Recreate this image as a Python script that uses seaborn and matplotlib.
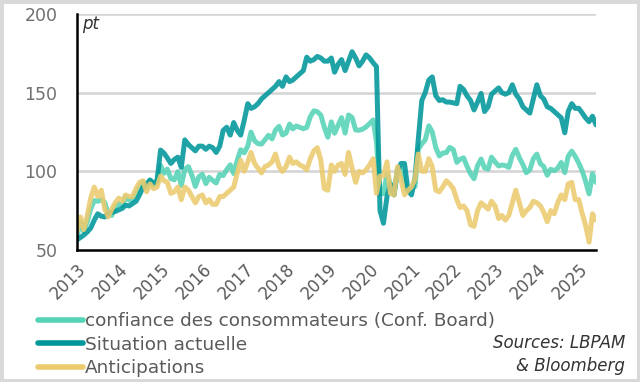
import numpy as np
import pandas as pd
import matplotlib
matplotlib.use("Agg")
import matplotlib.pyplot as plt
import seaborn as sns

# ---- data (monthly, Jan 2013 .. Jun 2025) ----
confiance = [
    58.4, 68.0, 61.9, 68.1, 76.2, 81.4, 81.0, 81.8, 80.2, 72.4, 72.0, 77.5,
    79.4, 78.3, 83.9, 81.7, 82.2, 86.4, 90.3, 93.4, 89.0, 94.1, 91.0, 93.1,
    103.8, 98.8, 101.4, 95.4, 94.6, 99.8, 91.0, 101.3, 103.0, 97.6, 90.4, 96.5,
    98.1, 92.2, 96.2, 94.2, 92.6, 98.0, 97.3, 101.1, 104.1, 98.6, 107.1, 113.7,
    111.8, 116.1, 124.9, 119.4, 117.6, 117.3, 120.0, 122.9, 120.6, 126.2, 128.6, 123.1,
    124.3, 130.0, 127.0, 128.8, 128.0, 127.1, 127.9, 134.7, 138.4, 137.9, 135.7, 128.1,
    121.7, 131.4, 124.2, 129.2, 134.1, 124.3, 135.8, 134.2, 126.3, 126.1, 126.8, 128.2,
    130.4, 132.6, 118.8, 85.7, 85.9, 98.3, 91.7, 86.3, 101.8, 101.4, 92.9, 87.1,
    88.9, 90.4, 114.0, 117.5, 120.0, 128.9, 125.1, 115.2, 109.8, 111.6, 111.9, 115.2,
    113.8, 105.7, 107.6, 108.6, 103.2, 98.4, 95.3, 103.6, 107.8, 102.2, 101.4, 109.0,
    106.0, 103.4, 104.0, 103.7, 102.5, 110.1, 114.0, 108.7, 104.3, 99.1, 101.0, 108.0,
    110.9, 104.8, 103.1, 97.5, 101.3, 100.4, 101.9, 105.6, 99.2, 109.6, 112.8, 109.5,
    105.3, 100.1, 93.9, 85.7, 98.4, 93.0,
]
situation = [
    56.5, 58.0, 59.5, 61.5, 64.0, 69.0, 73.0, 71.5, 71.0, 73.0, 74.0, 74.5,
    75.5, 76.5, 78.5, 78.0, 79.5, 81.0, 85.0, 90.0, 92.0, 94.5, 92.5, 94.0,
    113.5, 111.5, 108.5, 105.0, 107.5, 109.0, 102.5, 120.0, 117.0, 115.0, 113.0, 116.0,
    116.0, 114.0, 116.0, 115.0, 112.0, 116.0, 126.0, 128.0, 123.0, 131.0, 126.0, 123.0,
    132.5, 143.0, 140.0, 141.0, 143.0, 146.0, 148.0, 150.0, 152.0, 154.0, 157.0, 154.0,
    160.0, 157.0, 158.0, 160.0, 162.0, 164.0, 172.5, 170.0, 171.0, 173.0, 172.0, 170.0,
    170.0, 172.0, 163.0, 168.0, 171.0, 164.0, 170.0, 176.0, 172.0, 167.0, 170.0, 174.0,
    172.0, 169.0, 166.5, 75.0, 67.0, 84.0, 92.0, 85.0, 100.0, 105.0, 105.0, 88.0,
    85.0, 96.0, 120.0, 145.0, 150.0, 158.0, 160.0, 148.0, 145.0, 145.5, 144.0, 144.0,
    143.5, 143.0, 154.0, 152.0, 148.0, 145.0, 139.0, 144.0, 149.5, 138.0, 141.0, 149.0,
    151.0, 153.0, 150.0, 149.0, 150.0, 155.0, 149.0, 146.0, 141.0, 139.0, 137.0, 146.0,
    155.0, 148.0, 146.0, 141.0, 140.0, 138.0, 136.0, 134.0, 124.5, 138.0, 143.0, 140.0,
    140.0, 137.0, 134.0, 131.5, 135.0, 129.5,
]
anticipations = [
    62, 71, 63, 72, 83, 90, 84, 88, 76, 71, 76, 80,
    83, 81, 85, 84, 84, 89, 93, 94, 87, 92, 89, 90,
    97, 94, 93, 86, 87, 90, 82, 90, 88, 84, 80, 84,
    85, 80, 82, 79, 79, 84, 84, 86, 88, 90, 99, 107,
    100, 106, 112, 105, 102, 99, 103, 104, 106, 111, 103, 100,
    103, 109, 105, 106, 104, 103, 101, 108, 113, 115, 107, 89,
    88, 104, 100, 104, 105, 98, 112, 102, 93, 100, 99, 101,
    104, 108, 86, 97, 97, 106, 86, 85, 103, 95, 85, 88,
    90, 95, 111, 100, 100, 108, 103, 88, 87, 90, 94, 92,
    89, 82, 77, 78, 75, 66, 65, 75, 80, 78, 76, 81,
    78, 70, 72, 69, 72, 80, 88, 80, 72, 75, 77, 81,
    80, 78, 74, 68, 75, 73, 80, 85, 82, 92, 93, 82,
    82, 73, 66, 55, 73, 69,
]
series_names = ["confiance des consommateurs (Conf. Board)",
                "Situation actuelle", "Anticipations"]
colors = ["#55d3b6", "#00979b", "#ebcb6e"]
year_labels = [str(y) for y in range(2013, 2026)]
y_ticks = [50, 100, 150, 200]

dates = pd.date_range("2013-01-01", periods=len(confiance), freq="MS")
df = pd.DataFrame({
    "date": np.tile(dates, 3),
    "value": confiance + situation + anticipations,
    "serie": np.repeat(series_names, len(dates)),
})

sns.set_theme(style="white")
plt.rcParams["font.family"] = ["DejaVu Sans"]

fig = plt.figure(figsize=(6.4, 3.82), dpi=100)
fig.patch.set_facecolor("white")
fig.patch.set_edgecolor("#d9d9d9")
fig.patch.set_linewidth(5)
ax = fig.add_axes([0.1203, 0.3455, 0.811, 0.618])

sns.lineplot(data=df, x="date", y="value", hue="serie", hue_order=series_names,
             palette=colors, linewidth=3.6, alpha=0.88, ax=ax, legend=True)

ax.set_xlim(dates[0], dates[-1])
ax.set_ylim(50, 200)
ax.set_yticks(y_ticks)
ax.set_yticklabels([str(v) for v in y_ticks])
xt = pd.to_datetime([f"{y}-01-01" for y in year_labels])
ax.set_xticks(xt)
ax.set_xticklabels(year_labels, rotation=45, ha="right", rotation_mode="anchor")
ax.set_xlabel("")
ax.set_ylabel("")

for g in [100, 150, 200]:
    ax.axhline(g, color="#d4d4d4", lw=1.8, zorder=0)

for s in ["top", "right"]:
    ax.spines[s].set_visible(False)
for s in ["left", "bottom"]:
    ax.spines[s].set_color("black")
    ax.spines[s].set_linewidth(1.8)

ax.tick_params(axis="y", length=0, pad=14, labelsize=12.5, labelcolor="#707070")
ax.tick_params(axis="x", direction="out", length=4.5, width=1.5, color="black",
               pad=3, labelsize=12, labelcolor="#5a5a5a")

ax.text(0.01, 0.995, "pt", transform=ax.transAxes, ha="left", va="top",
        fontsize=12, style="italic", color="#333333")

handles, labels = ax.get_legend_handles_labels()
for h in handles:
    h.set_linewidth(4)
    h.set_solid_capstyle("round")
    h.set_alpha(1)
ax.legend(handles, labels, loc="upper left", bbox_to_anchor=(0.06, 0.183),
          bbox_transform=fig.transFigure, frameon=False, fontsize=13.3,
          handlelength=2.4, handletextpad=0.1, labelspacing=0.3,
          borderaxespad=0, borderpad=0, labelcolor="#5a5a5a")

fig.text(0.977, 0.072, "Sources: LBPAM\n& Bloomberg", ha="right", va="center",
         fontsize=12, style="italic", color="#333333", linespacing=1.35)

fig.savefig("out.png", dpi=100)
